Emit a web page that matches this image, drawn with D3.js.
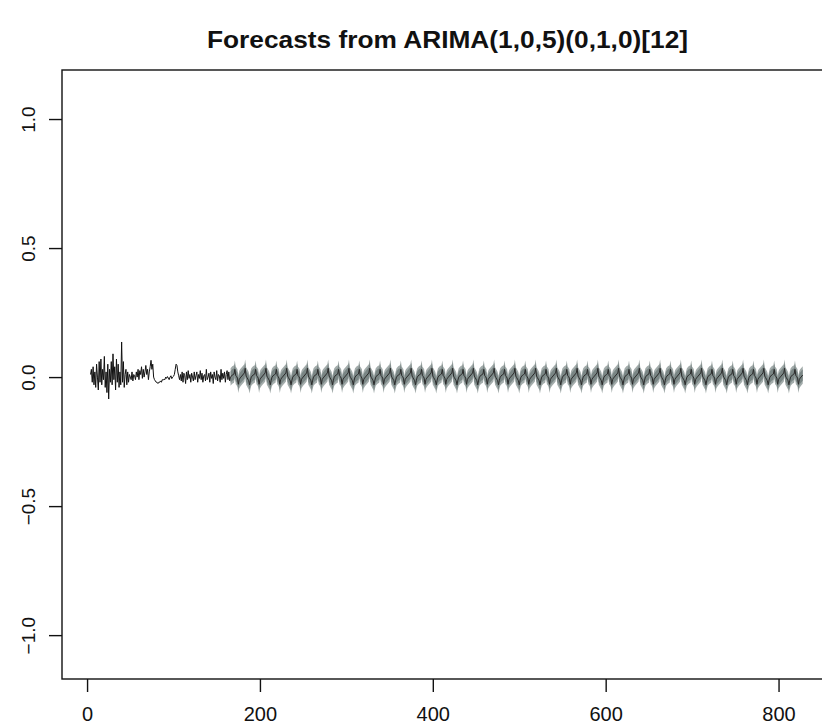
<!DOCTYPE html>
<html>
<head>
<meta charset="utf-8">
<script src="https://cdn.jsdelivr.net/npm/d3@7"></script>
<style>
  html, body { margin: 0; padding: 0; background: #ffffff; }
  svg { display: block; }
</style>
</head>
<body>
<svg id="chart" width="822" height="724"></svg>
<script>
// ---------------- data ----------------
const titleText = "Forecasts from ARIMA(1,0,5)(0,1,0)[12]";
const xTicks = [0, 200, 400, 600, 800];
const yTicks = [-1.0, -0.5, 0.0, 0.5, 1.0];

// observed series, starting at t = 4
const histStart = 4;
const histValues = [
  0.01, 0.03, -0.02, 0.04, -0.03, 0.02, -0.04, 0.05, 0.00, -0.05,
  0.06, -0.02, 0.07, -0.03, 0.03, -0.01, 0.08, -0.04, 0.02, -0.06,
  0.05, -0.085, 0.03, -0.02, 0.06, -0.03, 0.09, -0.01, 0.04, -0.05,
  0.07, -0.02, 0.05, -0.04, 0.02, -0.03, 0.136, -0.02, 0.06, -0.04,
  0.01, 0.03, -0.03, 0.02, -0.02, 0.01,
  0.00, -0.01, 0.02, -0.015, 0.01, 0.005, -0.01, 0.02, 0.0, 0.03,
  -0.01, 0.025, 0.01, 0.04, -0.005, 0.03, 0.0, 0.02, 0.045, 0.01,
  0.03, -0.01, 0.02,
  0.04, 0.065, 0.03, 0.05, 0.0, -0.01, -0.015, -0.02,
  -0.02, -0.025, -0.02, -0.02, -0.015, -0.02, -0.01, -0.012, -0.008, -0.01,
  0.0, -0.005, 0.002, -0.004, -0.01, 0.0, 0.005, -0.006, 0.0, 0.003, 0.01,
  0.03, 0.05, 0.045, 0.02, 0.005, -0.01,
  0.01, -0.015, 0.02, -0.02, 0.015, 0.005, -0.025, 0.02, -0.01, 0.025,
  -0.005, 0.01, -0.02, 0.015, 0.0, -0.015, 0.02, -0.01, 0.005, 0.02,
  -0.02, 0.01, -0.005, 0.025, -0.01, 0.015, -0.02, 0.005, 0.01, -0.015,
  0.03, -0.01, 0.0, 0.015, -0.02, 0.02, -0.005, 0.01, -0.025, 0.02,
  0.0, -0.01, 0.025, -0.015, 0.01, 0.005, -0.02, 0.03, -0.01, 0.015,
  -0.005, 0.02, -0.02, 0.01, 0.025, -0.01, 0.02, -0.015
];

// forecast: one seasonal cycle of point forecasts, repeated over the horizon
const fcPattern = [
  0.000, 0.004, 0.008, 0.010, 0.012, 0.030, 0.006, 0.002,
  -0.004, -0.028, -0.010, -0.004, 0.000, 0.004, 0.008, 0.012,
  0.016, 0.034, 0.004, -0.002, -0.008, -0.014, -0.030, -0.012
];
const fcEnd = 828;
const half80 = 0.022;
const half95 = 0.034;

// ---------------- layout ----------------
const svg = d3.select("#chart");
const plot = { left: 62, right: 833, top: 70, bottom: 679 };

const x = d3.scaleLinear().domain([-29, 863]).range([plot.left, plot.right]);
const y = d3.scaleLinear().domain([-1.17, 1.19]).range([plot.bottom, plot.top]);

const hist = histValues.map((v, i) => ({ t: histStart + i, v }));
const lastT = histStart + histValues.length - 1;
const fc = [];
for (let t = lastT + 1, k = 0; t <= fcEnd; t++, k++) {
  const m = fcPattern[k % fcPattern.length];
  fc.push({ t, m, lo80: m - half80, hi80: m + half80, lo95: m - half95, hi95: m + half95 });
}

svg.append("clipPath").attr("id", "clip")
  .append("rect").attr("x", plot.left).attr("y", plot.top)
  .attr("width", plot.right - plot.left).attr("height", plot.bottom - plot.top);

const g = svg.append("g").attr("clip-path", "url(#clip)");

// 95% band
g.append("path").datum(fc)
  .attr("fill", "#a3acab")
  .attr("d", d3.area().x(d => x(d.t)).y0(d => y(d.lo95)).y1(d => y(d.hi95)));
// 80% band
g.append("path").datum(fc)
  .attr("fill", "#7a8685")
  .attr("d", d3.area().x(d => x(d.t)).y0(d => y(d.lo80)).y1(d => y(d.hi80)));

// observed
g.append("path").datum(hist)
  .attr("fill", "none").attr("stroke", "#111").attr("stroke-width", 1)
  .attr("stroke-linejoin", "round")
  .attr("d", d3.line().x(d => x(d.t)).y(d => y(d.v)));

// forecast mean
const fcLine = [{ t: lastT, m: histValues[histValues.length - 1] }].concat(fc);
g.append("path").datum(fcLine)
  .attr("fill", "none").attr("stroke", "#2a2a2a").attr("stroke-width", 1)
  .attr("d", d3.line().x(d => x(d.t)).y(d => y(d.m)));

// box
svg.append("rect")
  .attr("x", plot.left).attr("y", plot.top)
  .attr("width", plot.right - plot.left).attr("height", plot.bottom - plot.top)
  .attr("fill", "none").attr("stroke", "#111").attr("stroke-width", 1.4);

// axes
const fontFam = "'Liberation Sans', Arial, sans-serif";
const xAxis = svg.append("g")
  .attr("transform", `translate(0,${plot.bottom})`)
  .call(d3.axisBottom(x).tickValues(xTicks).tickSize(13).tickFormat(d3.format("d")));
xAxis.select(".domain").remove();
xAxis.selectAll("line").attr("stroke", "#111").attr("stroke-width", 1.4);
xAxis.selectAll("text")
  .attr("y", 28).attr("dy", "0.71em")
  .attr("fill", "#111")
  .style("font-family", fontFam).style("font-size", "20px");

const yAxis = svg.append("g")
  .attr("transform", `translate(${plot.left},0)`)
  .call(d3.axisLeft(y).tickValues(yTicks).tickSize(13).tickFormat(d3.format(".1f")));
yAxis.select(".domain").remove();
yAxis.selectAll("line").attr("stroke", "#111").attr("stroke-width", 1.4);
yAxis.selectAll("text")
  .attr("transform", "rotate(-90)")
  .attr("x", 0).attr("y", -27).attr("dy", 0)
  .attr("text-anchor", "middle")
  .attr("fill", "#111")
  .style("font-family", fontFam).style("font-size", "19px");

// title
svg.append("text")
  .attr("x", (plot.left + plot.right) / 2).attr("y", 48)
  .attr("text-anchor", "middle")
  .attr("fill", "#111")
  .style("font-family", fontFam).style("font-size", "24px").style("font-weight", "bold")
  .attr("textLength", 481).attr("lengthAdjust", "spacingAndGlyphs")
  .text(titleText);
</script>
</body>
</html>
